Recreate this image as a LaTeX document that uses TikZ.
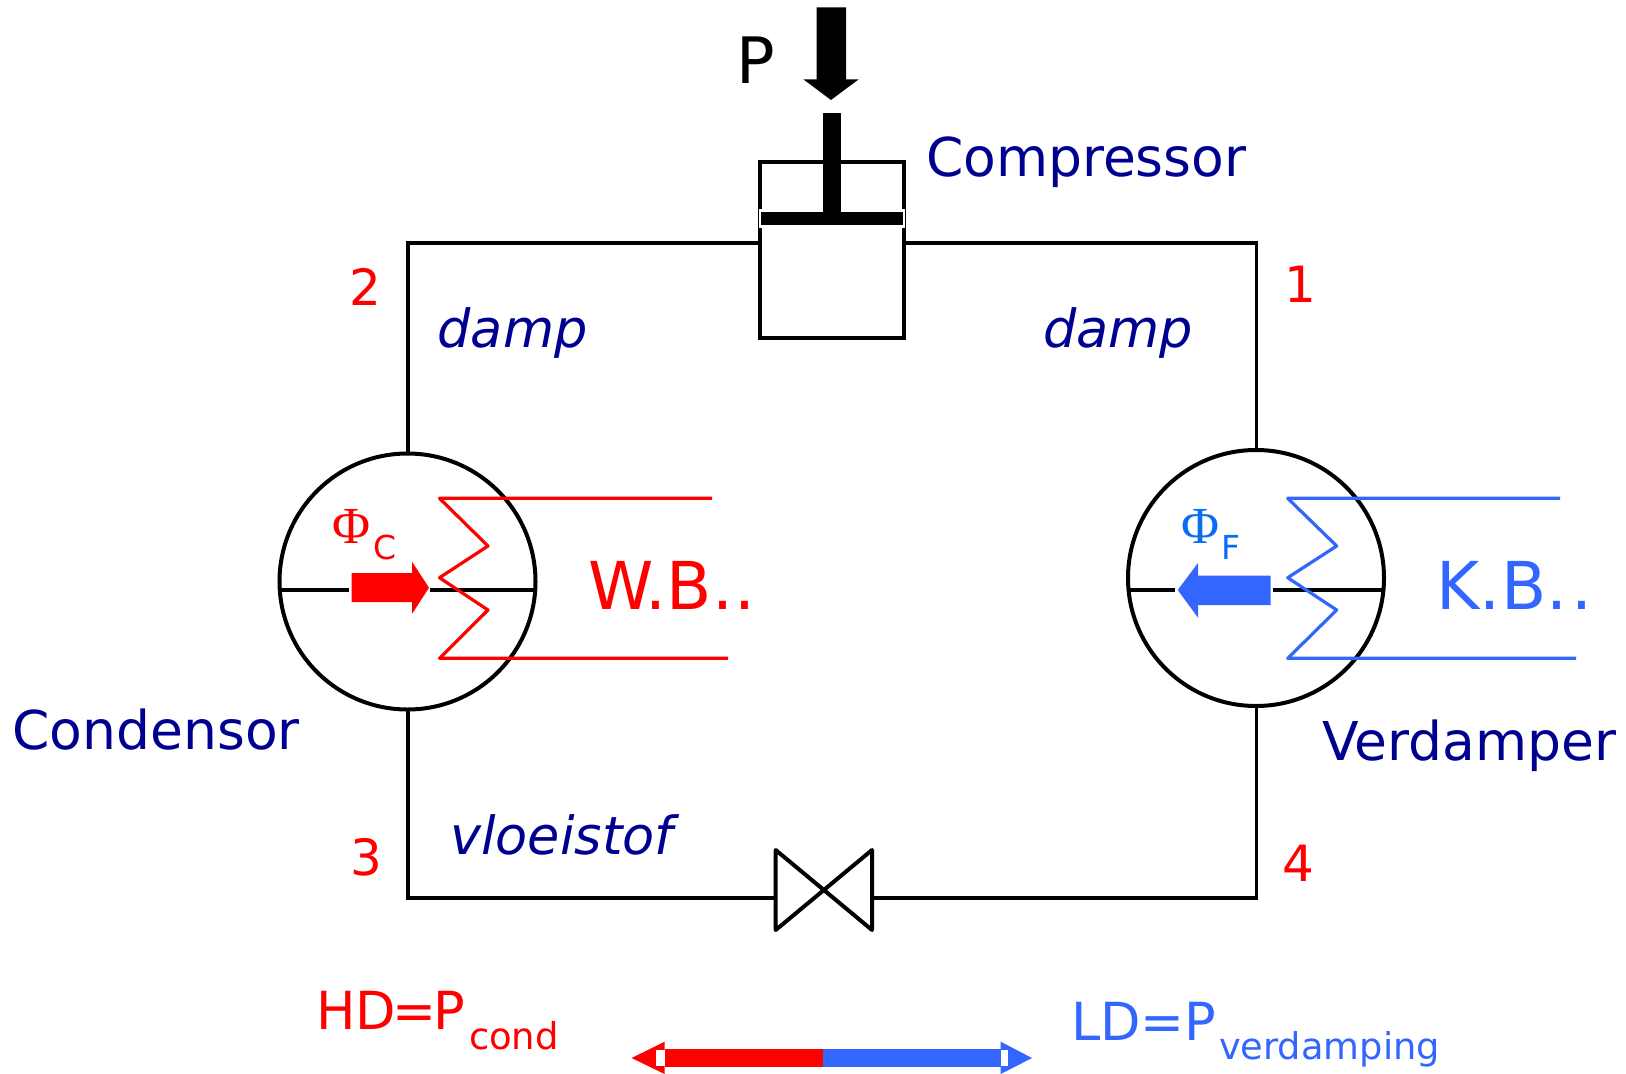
\documentclass[tikz,border=0pt]{standalone}
\usepackage{fontspec}
\usetikzlibrary{calc}
\setmainfont{DejaVu Sans}
\newfontfamily\phifont{Liberation Serif}
\definecolor{hot}{HTML}{FF0000}
\definecolor{cold}{HTML}{3366FF}
\definecolor{phicold}{HTML}{0A6CF5}
\definecolor{navy}{HTML}{000090}
\newcommand{\fs}[1]{\fontsize{#1}{#1}\selectfont}
\tikzset{
  pipe/.style={draw=black,line width=3.8pt,line join=miter},
  exch/.style={circle,draw=black,line width=4pt,minimum size=256pt,inner sep=0pt,outer sep=0pt},
  lab/.style={inner sep=0pt,outer sep=0pt,anchor=base west},
  labc/.style={inner sep=0pt,outer sep=0pt,anchor=base},
  unitlab/.style={lab,text=navy,font=\fs{53.5}},
  phaselab/.style={lab,text=navy,font=\fs{52.5}\itshape},
  numlab/.style={labc,text=hot,font=\fs{50}},
  coilhot/.style={draw=hot,line width=3.2pt,line join=round},
  coilcold/.style={draw=cold,line width=3.2pt,line join=round},
}
\begin{document}
\begin{tikzpicture}[x=1pt,y=-1pt]
\useasboundingbox (0,0) rectangle (1626,1074);
% main units
\node[exch] (cond) at (407.5,581.5) {};
\node[exch] (evap) at (1256,578) {};
\node[draw=black,line width=3.8pt,minimum width=144pt,minimum height=175.7pt,inner sep=0pt,outer sep=0pt] (comp) at (832,250.2) {};
\coordinate (compL) at (760,242.6);
\coordinate (compR) at (904,242.6);
\coordinate (valveL) at (775.7,898);
\coordinate (valveR) at (872,898);
% pipes
\draw[pipe] (cond.north -| 408,0) -- (408,242.6) -- (compL);
\draw[pipe] (compR) -- (1256.5,242.6) -- (evap.north -| 1256.5,0);
\draw[pipe] ($(cond.south -| 408,0)+(0,-2)$) -- (408,898) -- (valveL);
\draw[pipe] (valveR) -- (1256.5,898) -- ($(evap.south -| 1256.5,0)+(0,-1)$);
% valve
\draw[pipe,line width=4pt,line join=round] (775.7,850) -- (775.7,930) -- (872,850) -- (872,930) -- cycle;
% piston
\fill[white] (759,209) rectangle (905,227.5);
\fill[black] (761,211.7) rectangle (902.7,225);
\fill[black] (822.7,113) rectangle (841,212);
\fill[black] (816.7,7.3) -- (846,7.3) -- (846,79.3) -- (858.7,79.3) -- (831,100) -- (803.3,79.3) -- (816.7,79.3) -- cycle;
% condenser internals
\draw[pipe] (cond.west |- 0,590) -- (349,590);
\draw[pipe] (430,590) -- (cond.east |- 0,590);
\fill[hot] (351.7,573) -- (412,573) -- (412,561.7) -- (429,587.7) -- (412,614) -- (412,602) -- (351.7,602) -- cycle;
\draw[coilhot] (712,498.3) -- (439.5,498.3) -- (488,546) -- (439.5,577.7) -- (488,610) -- (439.5,658.3) -- (728,658.3);
% evaporator internals
\draw[pipe] (evap.west |- 0,590) -- (1175,590);
\draw[pipe] (1273,590) -- (evap.east |- 0,590);
\fill[cold] (1270.7,575.7) -- (1198,575.7) -- (1198,563) -- (1177.7,590) -- (1198,617.7) -- (1198,605) -- (1270.7,605) -- cycle;
\draw[coilcold] (1560,498.3) -- (1287.7,498.3) -- (1336.7,546) -- (1287.7,577.7) -- (1336.7,610) -- (1287.7,658.3) -- (1576,658.3);
% pressure bar
\fill[hot] (631.6,1058) -- (664.6,1041.7) -- (664.6,1074) -- cycle;
\fill[white] (656,1050) rectangle (664.6,1066);
\fill[hot] (664.6,1049) rectangle (823,1066.7);
\fill[cold] (823,1049) rectangle (1000.7,1066.7);
\fill[cold] (1000.7,1041.7) -- (1032,1058) -- (1000.7,1074) -- cycle;
\fill[white] (1000.7,1050) rectangle (1008,1066);
% labels
\node[lab,font=\fs{64}] (plab) at (736,83) {P};
\node[unitlab] (l1) at (926,176) {Compressor};
\node[unitlab] (l2) at (12.4,749.3) {Condensor};
\node[unitlab] (l3) at (1322,760.5) {Verdamper};
\node[phaselab] (l4) at (437.6,347.4) {damp};
\node[phaselab] (l5) at (1043,347.4) {damp};
\node[phaselab] (l6) at (450,854.5) {vloeistof};
\node[numlab] (n2) at (365,305) {2};
\node[numlab] (n1) at (1300.4,302) {1};
\node[numlab] (n3) at (366,875) {3};
\node[numlab] (n4) at (1298,881) {4};
\node[lab,text=hot,font=\fs{66}] (wb) at (588,609) {W.B.\kern2pt.};
\node[lab,text=cold,font=\fs{66}] (kb) at (1436,609) {K.\kern1pt B.\kern4pt.};
\node[labc,text=hot,font=\phifont\fs{52}] (pc) at (351.7,543) {Φ};
\node[lab,text=hot,font=\fs{33}] (pcs) at (373,559) {C};
\node[labc,text=phicold,font=\phifont\fs{52}] (pf) at (1200,543) {Φ};
\node[lab,text=phicold,font=\fs{33}] (pfs) at (1221,559) {F};
\node[lab,text=hot,font=\fs{52.5}] (hd) at (316,1029) {HD\kern-3pt=\kern-3pt P};
\node[lab,text=hot,font=\fs{37}] (hds) at (469,1049) {cond};
\node[lab,text=cold,font=\fs{52.5}] (ld) at (1071,1040) {LD=P};
\node[lab,text=cold,font=\fs{36.8}] (lds) at (1219,1059) {verdamping};
\end{tikzpicture}
\end{document}
